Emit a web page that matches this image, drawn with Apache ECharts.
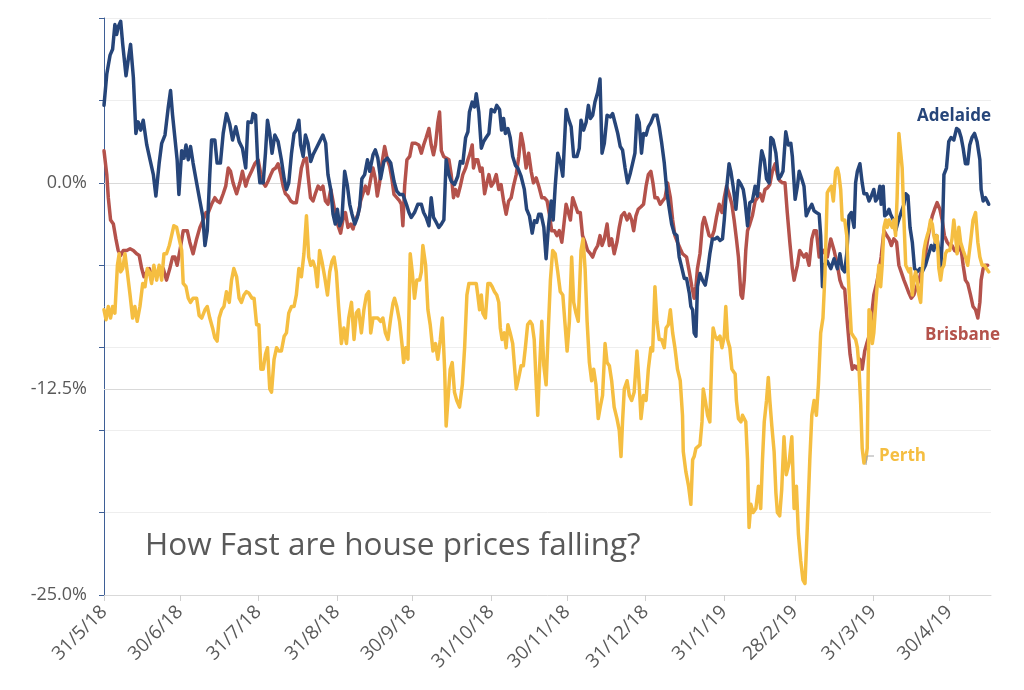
<!DOCTYPE html>
<html><head><meta charset="utf-8">
<script src="https://cdn.jsdelivr.net/npm/echarts@6/dist/echarts.min.js"></script>
<style>html,body{margin:0;padding:0;background:#fff}#c{width:1024px;height:690px}</style>
</head><body><div id="c"></div>
<script>
// x = days since 31/5/18, y = % change
const monthEndDays = [0,30,61,92,122,153,183,214,245,273,304,334];
const monthEndLabels = ['31/5/18','30/6/18','31/7/18','31/8/18','30/9/18','31/10/18','30/11/18','31/12/18','31/1/19','28/2/19','31/3/19','30/4/19'];
const yLabelValues = [-25,-12.5,0];
const seriesNames = ['Brisbane','Adelaide','Perth'];

const adelaide = [[0,4.7],[1.1,6.6],[2.4,7.75],[3.4,8.1],[4.3,9.6],[5.0,9.0],[5.6,9.45],[6.6,9.8],[7.4,8.4],[8.7,6.5],[9.6,7.5],[10.5,8.4],[11.6,6.4],[12.6,3.0],[13.5,3.7],[14.5,3.2],[15.5,3.8],[16.9,2.3],[18.2,1.4],[19.5,0.5],[20.5,-0.8],[21.8,1.2],[22.8,2.4],[24.1,2.9],[25.4,4.6],[26.3,5.6],[27.1,4.1],[28.0,2.75],[28.9,1.4],[29.6,-0.7],[30.7,1.95],[31.6,1.5],[32.4,2.3],[33.3,1.4],[34.2,2.2],[35.2,1.2],[36.6,0.0],[37.9,-1.1],[39.0,-2.0],[39.9,-3.8],[40.8,-2.9],[41.8,0.5],[42.5,2.6],[43.8,2.6],[44.7,1.2],[46.0,1.2],[47.1,3.0],[48.4,4.2],[49.7,3.55],[50.8,2.6],[52.1,3.4],[53.4,2.5],[54.7,2.1],[56.0,0.9],[56.9,3.7],[58.3,3.66],[58.9,4.2],[59.9,4.1],[60.7,1.4],[61.6,0.0],[62.9,0.0],[63.8,1.8],[64.6,3.8],[65.5,3.0],[66.4,1.8],[67.5,2.9],[68.8,2.5],[70.1,1.4],[71.2,0.25],[72.1,-0.4],[73.0,0.0],[74.1,1.8],[75.1,3.0],[76.0,3.2],[77.0,3.8],[77.7,2.3],[78.7,1.6],[79.6,2.9],[80.6,2.4],[81.7,1.3],[82.6,1.7],[83.9,2.1],[85.2,2.5],[86.5,2.9],[87.6,2.4],[88.5,0.5],[89.6,-0.4],[90.5,-1.9],[91.4,-2.5],[92.2,-1.6],[93.1,-2.6],[94.0,-2.25],[95.1,0.7],[96.2,-0.2],[97.1,-1.3],[98.0,-1.9],[99.1,-2.5],[100.1,-2.1],[101.0,-1.5],[101.9,0.25],[103.0,0.5],[104.1,1.4],[105.0,0.7],[106.3,1.7],[107.2,2.0],[108.2,1.5],[109.3,0.25],[110.6,1.3],[112.0,1.5],[113.3,1.2],[114.6,0.1],[115.7,-0.5],[116.8,-0.7],[118.1,-0.7],[119.5,-1.3],[120.5,-1.8],[121.4,-2.1],[122.7,-1.8],[124.0,-1.3],[125.4,-1.3],[126.3,-1.8],[127.3,-2.1],[128.4,-2.6],[129.3,-0.9],[130.2,-2.1],[131.3,-2.4],[132.3,-2.7],[133.3,-2.5],[134.3,-2.25],[135.2,1.4],[136.3,0.5],[137.2,0.1],[138.5,-0.1],[139.8,0.4],[140.8,1.3],[141.8,1.2],[142.9,2.75],[143.8,3.1],[144.4,4.3],[145.5,4.9],[146.4,4.6],[147.1,5.4],[148.1,4.3],[149.1,2.1],[150.0,2.5],[151.0,2.75],[152.1,3.0],[153.0,4.45],[154.3,4.3],[155.2,4.7],[156.3,4.45],[157.1,3.2],[157.9,3.9],[158.6,3.0],[159.6,3.3],[160.5,2.75],[161.5,1.6],[162.6,1.05],[163.5,0.9],[164.8,0.4],[166.1,-0.4],[167.0,-1.6],[168.1,-2.0],[169.2,-3.05],[170.1,-2.3],[171.0,-2.4],[171.8,-1.9],[172.7,-1.9],[173.8,-2.7],[174.7,-4.6],[175.6,-2.7],[176.7,-1.1],[177.5,-2.25],[178.3,-0.2],[179.3,1.8],[180.3,1.3],[181.3,0.4],[182.6,4.45],[183.5,3.9],[184.6,3.4],[185.6,1.6],[186.9,1.6],[187.8,2.1],[188.5,3.8],[189.5,3.2],[190.5,3.66],[191.4,4.7],[192.2,3.9],[193.1,4.1],[194.0,4.9],[195.1,5.5],[196.0,6.3],[196.8,1.8],[197.7,2.4],[198.8,4.1],[200.1,4.0],[201.0,4.2],[201.9,3.66],[203.0,3.0],[204.0,2.2],[204.9,2.0],[205.9,0.9],[206.9,0.0],[208.0,0.6],[208.9,1.2],[209.8,1.8],[210.6,4.1],[211.5,3.66],[212.4,1.8],[213.2,3.0],[214.2,2.9],[215.1,3.4],[216.1,3.66],[217.2,4.1],[218.5,4.1],[219.4,3.4],[220.3,2.5],[221.4,1.2],[222.5,-0.66],[223.4,-1.6],[224.3,-2.5],[225.3,-3.05],[226.4,-3.2],[227.3,-4.5],[228.4,-5.2],[229.3,-5.8],[230.2,-5.8],[231.3,-6.7],[231.9,-7.5],[232.6,-7.7],[233.2,-9.1],[233.9,-9.3],[234.5,-6.3],[235.5,-5.5],[236.5,-5.9],[237.6,-6.2],[238.5,-5.4],[239.4,-4.3],[240.4,-3.4],[241.5,-3.4],[242.4,-3.3],[243.4,-3.5],[244.4,-3.4],[245.1,-2.25],[246.0,-0.4],[247.0,1.16],[247.7,0.7],[248.6,-0.2],[249.7,-1.6],[250.7,0.14],[251.7,-0.1],[252.6,-0.4],[253.3,-1.1],[254.3,-2.6],[255.2,-1.2],[256.2,-1.1],[257.3,-0.2],[258.2,-0.8],[259.2,0.9],[259.9,1.95],[260.9,1.4],[261.8,0.25],[262.8,0.0],[263.5,2.75],[264.4,2.6],[265.5,1.8],[266.5,0.25],[267.4,0.4],[268.3,0.7],[269.4,3.1],[270.4,2.3],[271.4,2.4],[272.0,1.6],[273.1,-1.0],[274.0,-0.2],[274.7,0.7],[275.7,0.25],[276.6,-0.2],[277.5,-2.0],[278.6,-1.6],[279.7,-1.3],[280.6,-1.7],[281.5,-1.8],[282.6,-1.9],[283.2,-3.2],[283.9,-6.3],[284.5,-5.0],[285.8,-4.75],[287.2,-5.2],[288.5,-4.6],[289.8,-5.2],[290.8,-4.3],[291.7,-5.2],[292.7,-5.4],[293.5,-4.3],[294.4,-2.0],[295.3,-1.8],[296.4,-2.7],[297.0,0.0],[297.7,0.7],[298.7,1.16],[299.6,0.0],[300.3,-0.66],[301.4,-0.66],[302.3,-1.1],[303.2,-0.8],[304.2,-0.4],[304.9,-1.1],[305.8,-0.9],[306.6,-0.2],[307.1,-1.3],[307.9,-0.2],[308.5,-2.0],[309.3,-1.9],[310.2,-1.6],[310.8,-1.9],[311.9,-2.25],[312.8,-2.9],[313.7,-2.4],[314.8,-1.9],[316.1,-1.3],[316.8,-0.66],[317.7,-0.8],[318.5,-2.7],[319.4,-3.6],[320.3,-5.2],[321.3,-5.4],[322.4,-5.2],[323.3,-5.4],[324.6,-5.0],[325.9,-4.3],[326.9,-3.8],[327.9,-4.1],[329.0,-3.2],[329.9,-4.1],[330.6,-5.2],[331.2,-3.6],[331.9,0.5],[332.9,0.9],[333.8,2.5],[334.7,2.75],[335.8,2.6],[336.9,3.3],[337.8,3.2],[338.7,2.75],[339.5,2.1],[340.4,1.16],[341.3,1.16],[342.1,2.3],[343.0,2.75],[344.0,3.0],[345.0,2.5],[346.1,1.4],[346.6,-0.4],[347.4,-1.1],[348.3,-0.9],[349.0,-1.1],[349.6,-1.3]];

const brisbane = [[0,1.95],[1.1,0.5],[1.7,-0.9],[2.6,-2.25],[3.7,-2.5],[4.7,-3.4],[5.6,-4.1],[6.6,-4.4],[7.6,-4.1],[9.0,-4.1],[10.3,-4.0],[11.6,-4.1],[12.9,-4.3],[13.9,-4.4],[14.9,-5.2],[15.8,-5.7],[16.9,-5.4],[17.9,-5.2],[18.8,-5.9],[19.7,-5.2],[20.8,-5.7],[22.1,-5.4],[23.4,-5.2],[24.7,-5.9],[26.0,-5.2],[27.1,-4.5],[28.0,-4.5],[28.9,-5.0],[30.0,-4.1],[31.3,-2.9],[32.9,-2.9],[33.9,-3.6],[35.2,-4.3],[36.6,-3.4],[37.9,-2.7],[39.2,-2.25],[40.3,-1.8],[41.2,-1.8],[42.5,-1.3],[43.8,-0.9],[44.7,-1.1],[45.8,-1.2],[47.1,-0.66],[48.1,-0.2],[49.1,0.9],[50.0,0.7],[51.0,0.0],[52.4,-0.66],[53.7,0.0],[54.7,0.7],[56.0,-0.2],[56.9,0.25],[58.3,0.7],[59.6,1.16],[60.9,1.4],[62.0,0.5],[62.9,0.0],[63.8,-0.2],[64.8,0.1],[65.9,0.5],[66.8,0.8],[67.8,0.9],[68.8,1.16],[69.9,0.5],[70.8,-0.2],[71.7,-0.66],[72.7,-0.8],[73.8,-1.1],[74.7,-1.2],[76.0,-1.2],[77.0,-0.2],[78.0,0.9],[79.0,1.4],[80.0,1.5],[80.6,0.5],[81.6,-0.9],[82.6,-1.1],[83.5,-0.66],[84.6,-0.2],[85.6,-0.4],[86.5,-0.2],[87.5,-1.1],[88.5,-1.3],[89.6,-0.4],[90.5,-1.1],[91.4,-1.9],[92.5,-2.6],[93.5,-3.05],[94.4,-2.25],[95.4,-1.8],[96.4,-2.7],[97.5,-2.5],[98.4,-2.8],[99.3,-2.25],[100.4,-1.9],[101.4,-1.1],[102.3,-0.66],[103.3,-0.2],[104.3,-0.66],[105.4,0.25],[106.3,0.9],[107.2,0.25],[108.0,-0.8],[108.9,0.0],[109.8,1.16],[110.9,2.2],[112.0,1.4],[112.9,1.0],[113.8,0.2],[114.6,-0.7],[115.7,-0.9],[116.8,-1.1],[117.5,-1.3],[118.1,-2.6],[118.8,-0.2],[119.7,1.4],[120.8,1.6],[121.8,2.4],[123.1,2.4],[124.4,2.3],[125.4,1.8],[126.3,2.3],[127.3,2.75],[128.4,3.3],[129.3,2.3],[130.2,1.7],[131.0,2.3],[131.9,3.66],[132.6,4.3],[133.3,1.95],[134.2,1.6],[135.2,1.5],[136.3,1.4],[137.2,0.5],[138.1,-0.9],[138.9,-0.4],[139.8,-0.8],[140.8,-0.2],[141.8,0.5],[142.9,0.9],[143.8,1.4],[144.7,1.8],[145.5,2.3],[146.0,0.9],[146.8,1.4],[147.7,1.4],[148.7,0.7],[149.4,0.9],[150.4,-0.66],[151.3,0.0],[152.1,0.5],[153.0,-0.2],[153.9,0.0],[155.0,0.5],[156.0,-0.4],[156.9,-0.1],[157.9,-1.1],[158.9,-1.9],[159.9,-1.1],[160.9,-0.9],[161.8,-0.2],[162.9,0.5],[163.9,1.6],[164.8,3.0],[165.7,2.3],[166.8,0.9],[167.8,1.8],[168.8,0.7],[169.7,0.0],[170.8,0.3],[171.8,-0.2],[173.0,-0.9],[174.0,-0.9],[175.1,-1.1],[176.0,-1.9],[176.9,-2.9],[178.0,-2.9],[179.0,-3.2],[179.9,-2.9],[180.9,-3.6],[181.6,-2.7],[182.6,-1.3],[183.5,-1.8],[184.3,-2.25],[185.2,-0.9],[186.1,-1.3],[187.2,-1.8],[188.2,-1.8],[189.1,-3.2],[190.1,-3.6],[191.1,-4.1],[192.2,-4.3],[193.1,-4.5],[194.0,-4.1],[195.1,-3.8],[196.0,-3.2],[196.8,-3.8],[197.7,-3.4],[198.8,-2.5],[199.7,-3.8],[200.6,-3.4],[201.6,-4.3],[202.7,-3.6],[203.6,-2.7],[204.5,-2.0],[205.6,-1.8],[206.7,-2.25],[207.6,-1.9],[208.5,-2.25],[209.3,-2.9],[210.2,-2.0],[211.1,-1.6],[212.2,-1.45],[213.2,-1.3],[214.2,-0.2],[215.1,0.5],[216.1,0.7],[216.9,0.0],[217.7,-0.9],[218.7,-0.9],[219.8,-1.3],[220.7,-1.1],[221.7,-0.9],[222.7,0.0],[223.8,-0.9],[224.7,-2.25],[225.6,-3.2],[226.6,-3.6],[227.7,-4.0],[228.6,-4.3],[229.3,-4.3],[230.2,-4.5],[231.3,-5.4],[232.3,-6.3],[233.2,-7.0],[233.9,-6.3],[234.5,-5.2],[235.5,-4.3],[236.5,-2.5],[237.2,-2.1],[238.1,-2.6],[239.1,-3.2],[240.2,-3.3],[241.1,-2.9],[242.0,-2.1],[243.1,-1.3],[244.2,-1.8],[245.1,-0.9],[246.0,-0.2],[247.0,-0.66],[248.1,-1.3],[249.0,-2.25],[249.9,-3.4],[250.7,-4.5],[251.7,-6.8],[252.3,-7.0],[253.0,-5.9],[253.6,-4.1],[254.3,-2.9],[255.2,-2.5],[256.2,-2.0],[257.3,-1.1],[258.2,-0.9],[259.2,-0.66],[260.2,-1.1],[261.2,-0.4],[262.2,-0.3],[263.1,-0.1],[264.1,0.7],[265.2,1.16],[266.1,0.5],[267.0,0.14],[268.1,0.0],[269.1,0.0],[270.0,-1.8],[271.0,-3.6],[272.0,-5.2],[272.7,-5.9],[273.4,-5.4],[274.0,-5.0],[274.9,-4.1],[275.7,-4.3],[276.6,-4.5],[277.5,-4.3],[278.6,-5.0],[279.7,-3.4],[280.6,-2.9],[281.5,-2.9],[282.6,-4.5],[283.6,-4.3],[284.5,-4.1],[285.8,-4.5],[287.2,-3.4],[288.5,-4.1],[289.8,-5.0],[290.8,-5.9],[291.7,-6.3],[292.7,-6.45],[293.7,-8.4],[294.8,-10.4],[295.7,-11.3],[296.6,-11.1],[297.7,-11.3],[298.7,-10.7],[299.6,-11.3],[300.6,-10.2],[301.4,-9.75],[302.3,-9.3],[303.2,-8.2],[304.2,-6.8],[305.3,-6.1],[306.2,-5.4],[307.1,-4.5],[308.2,-2.9],[309.3,-3.2],[310.2,-3.4],[311.1,-3.8],[312.1,-3.4],[313.2,-3.6],[314.1,-5.0],[315.0,-5.4],[316.1,-5.9],[317.1,-6.3],[318.1,-6.7],[319.0,-7.0],[320.0,-6.8],[321.1,-6.3],[322.0,-5.9],[322.9,-5.4],[324.0,-5.0],[325.3,-3.6],[326.3,-2.7],[327.3,-2.0],[328.2,-1.6],[329.2,-1.2],[330.3,-1.6],[331.2,-2.25],[332.1,-3.2],[333.2,-3.6],[334.2,-3.8],[335.1,-3.8],[336.1,-4.1],[337.1,-4.2],[338.5,-3.8],[339.5,-5.0],[340.4,-5.9],[341.3,-6.1],[342.4,-6.8],[343.4,-7.5],[344.4,-7.7],[345.3,-8.2],[346.1,-7.25],[346.6,-5.9],[347.4,-5.2],[348.3,-5.0],[349.2,-5.0]];

const perth = [[0,-7.7],[0.8,-8.3],[1.7,-7.5],[2.6,-8.2],[3.4,-7.5],[4.3,-7.9],[5.3,-5.0],[6.0,-4.3],[6.6,-5.4],[7.4,-5.2],[8.3,-4.3],[9.2,-5.4],[10.3,-6.8],[11.3,-8.2],[12.2,-7.5],[13.1,-8.4],[14.2,-7.5],[15.3,-6.1],[16.2,-6.3],[17.1,-5.2],[17.9,-5.4],[18.8,-6.1],[19.7,-5.0],[20.8,-5.9],[21.8,-5.0],[22.8,-5.9],[23.7,-4.3],[24.7,-4.3],[25.8,-3.8],[26.7,-3.2],[27.6,-2.6],[28.7,-2.7],[29.7,-3.4],[30.7,-4.1],[31.3,-6.1],[32.4,-6.3],[33.3,-7.0],[34.2,-7.25],[35.2,-7.0],[36.6,-7.0],[37.6,-8.05],[38.6,-8.2],[39.9,-7.7],[40.8,-7.5],[41.8,-8.2],[42.9,-8.8],[43.8,-9.4],[44.7,-9.6],[45.5,-8.2],[46.5,-7.7],[47.4,-7.5],[48.4,-6.6],[49.5,-7.25],[50.4,-5.9],[51.3,-5.2],[52.4,-5.7],[53.4,-7.0],[54.3,-7.25],[55.3,-6.8],[56.3,-6.6],[57.3,-6.7],[58.5,-7.0],[59.3,-7.0],[60.3,-8.6],[61.2,-8.6],[62.0,-11.3],[62.9,-11.3],[63.8,-10.4],[64.6,-10.0],[65.5,-12.5],[66.2,-12.7],[67.2,-10.7],[68.2,-10.0],[69.1,-10.2],[70.1,-10.2],[71.2,-9.3],[72.1,-9.1],[73.0,-7.9],[74.1,-7.5],[75.1,-7.5],[76.0,-6.8],[77.0,-5.2],[78.0,-5.7],[79.0,-4.3],[80.0,-2.0],[80.9,-4.5],[81.7,-5.0],[82.6,-4.75],[83.5,-5.2],[84.3,-6.3],[85.2,-4.1],[86.1,-4.75],[87.2,-5.7],[88.3,-6.8],[89.2,-5.4],[90.1,-4.75],[90.9,-4.5],[91.8,-5.4],[92.7,-7.5],[93.8,-9.75],[94.8,-8.8],[95.8,-9.75],[96.7,-8.2],[97.8,-7.25],[98.8,-9.5],[99.7,-7.9],[100.6,-7.7],[101.7,-9.1],[102.7,-7.7],[103.7,-6.8],[104.6,-6.6],[105.4,-9.1],[106.3,-8.2],[107.2,-8.2],[108.2,-8.2],[109.3,-8.4],[110.2,-8.2],[111.2,-9.1],[112.2,-9.5],[113.3,-8.2],[114.2,-7.3],[114.8,-7.0],[115.7,-7.5],[116.8,-8.4],[117.9,-10.0],[118.4,-10.9],[119.2,-10.0],[120.1,-10.7],[121.0,-4.3],[121.8,-5.4],[122.7,-7.0],[123.6,-5.9],[124.7,-5.9],[125.4,-5.4],[126.0,-3.8],[127.1,-5.0],[128.0,-7.7],[128.9,-8.6],[130.0,-10.2],[131.0,-9.75],[131.9,-10.7],[132.9,-9.5],[133.7,-8.2],[134.6,-11.3],[135.2,-14.75],[135.9,-13.2],[136.8,-11.3],[137.6,-10.9],[138.5,-12.7],[139.4,-13.2],[140.5,-13.6],[141.6,-12.25],[142.5,-10.0],[143.4,-6.8],[144.2,-6.1],[145.1,-6.1],[146.0,-6.1],[147.1,-6.1],[147.7,-6.8],[148.4,-7.7],[149.1,-6.8],[149.7,-7.9],[150.7,-8.2],[151.7,-6.1],[152.6,-6.1],[153.4,-6.3],[154.3,-6.6],[155.2,-6.8],[156.0,-7.25],[156.6,-8.8],[157.3,-9.5],[158.2,-9.1],[158.9,-10.0],[159.6,-8.6],[160.5,-9.1],[161.5,-9.75],[162.2,-11.1],[162.9,-12.5],[163.9,-11.8],[164.8,-11.1],[165.7,-11.1],[166.5,-10.0],[167.4,-8.6],[168.4,-8.4],[169.2,-8.6],[170.0,-9.5],[170.8,-12.25],[171.4,-14.1],[172.1,-11.3],[173.0,-8.4],[173.8,-11.1],[174.7,-12.25],[175.6,-8.8],[176.4,-5.9],[177.3,-4.1],[178.3,-4.3],[179.3,-5.4],[180.3,-6.6],[181.3,-6.8],[182.2,-8.6],[183.0,-10.2],[183.9,-8.4],[184.8,-4.5],[185.6,-7.25],[186.5,-7.9],[187.4,-8.4],[188.5,-4.1],[189.3,-3.4],[190.1,-5.2],[190.9,-8.4],[191.8,-10.9],[192.7,-12.0],[193.5,-11.3],[194.4,-12.25],[195.3,-14.3],[196.1,-13.6],[197.0,-12.9],[198.0,-9.75],[198.8,-10.9],[199.7,-11.1],[200.6,-12.0],[201.6,-13.6],[202.7,-14.3],[203.6,-15.0],[204.3,-16.6],[204.9,-14.5],[205.6,-12.5],[206.7,-12.0],[207.6,-12.9],[208.5,-13.2],[209.5,-12.7],[210.6,-10.2],[211.5,-12.25],[212.2,-14.3],[213.2,-12.9],[214.2,-13.2],[215.1,-11.3],[216.1,-10.0],[216.8,-10.2],[217.7,-6.3],[218.5,-8.4],[219.4,-9.5],[220.3,-9.5],[221.4,-10.0],[222.1,-8.8],[223.0,-8.6],[223.8,-7.7],[224.7,-9.1],[225.6,-10.0],[226.6,-11.3],[227.7,-12.0],[228.6,-14.1],[228.9,-16.3],[229.9,-17.5],[231.0,-18.4],[231.9,-19.5],[232.6,-16.8],[233.2,-16.6],[233.9,-16.1],[234.5,-16.1],[235.5,-15.9],[236.3,-14.5],[236.8,-12.5],[237.6,-13.2],[238.5,-14.1],[239.4,-14.5],[240.2,-10.4],[240.7,-8.8],[241.5,-9.3],[242.4,-9.5],[243.4,-9.3],[244.2,-10.0],[245.1,-9.3],[245.7,-7.5],[246.4,-9.5],[247.3,-10.0],[248.1,-11.3],[248.6,-11.3],[249.4,-11.6],[249.9,-13.2],[250.7,-14.3],[251.7,-14.5],[252.3,-14.1],[253.0,-14.1],[253.6,-14.5],[254.3,-16.8],[254.9,-20.9],[255.6,-19.5],[256.5,-20.0],[257.6,-19.75],[258.6,-18.4],[259.5,-19.75],[260.2,-16.8],[260.9,-14.5],[261.8,-13.2],[262.5,-11.8],[263.1,-13.2],[263.9,-14.75],[264.8,-16.3],[265.5,-18.8],[266.1,-20.0],[267.0,-20.2],[267.8,-18.6],[268.7,-15.4],[269.6,-17.7],[270.7,-17.0],[271.8,-15.4],[272.7,-19.75],[273.6,-18.4],[274.4,-21.3],[275.3,-22.9],[276.2,-24.1],[277.0,-24.3],[277.9,-20.9],[278.9,-16.8],[279.7,-14.1],[280.6,-13.2],[281.5,-14.1],[282.3,-12.25],[283.2,-9.1],[284.1,-8.2],[284.9,-5.5],[285.8,-0.6],[286.5,-0.4],[287.4,-0.2],[288.2,-1.1],[289.1,0.7],[289.8,0.9],[290.4,0.5],[291.1,-0.4],[291.7,-2.25],[292.7,-2.25],[293.5,-3.2],[294.0,-5.4],[294.8,-7.7],[295.3,-9.1],[296.1,-9.3],[297.0,-9.5],[297.7,-10.0],[298.3,-11.1],[299.0,-13.4],[299.6,-16.1],[300.3,-17.0],[301.0,-16.8],[301.6,-16.1],[302.3,-7.7],[302.9,-7.9],[303.6,-9.75],[304.2,-9.1],[304.9,-7.5],[305.5,-6.3],[306.2,-5.0],[306.9,-6.3],[307.5,-5.0],[308.2,-2.7],[308.9,-2.25],[309.5,-2.7],[310.2,-2.25],[310.8,-2.5],[311.5,-2.7],[312.1,-2.25],[312.8,-3.2],[313.4,-0.9],[314.1,3.0],[314.8,3.0],[315.4,0.9],[316.1,-2.25],[316.8,-5.0],[317.4,-5.0],[318.1,-5.4],[318.7,-5.2],[319.4,-6.8],[320.0,-5.9],[320.7,-5.4],[321.3,-5.9],[322.0,-6.8],[322.7,-7.25],[323.3,-5.4],[324.0,-4.1],[324.6,-3.6],[325.3,-3.2],[325.9,-2.9],[326.6,-2.25],[327.3,-2.5],[327.9,-3.2],[328.6,-3.6],[329.2,-3.2],[329.9,-5.2],[330.6,-5.9],[331.2,-5.2],[331.9,-5.0],[332.5,-4.3],[333.2,-4.1],[334.2,-4.1],[335.1,-3.4],[335.8,-2.25],[336.5,-3.2],[337.1,-4.3],[337.8,-2.7],[338.5,-3.6],[339.5,-4.1],[340.4,-4.5],[341.3,-5.0],[342.4,-3.6],[343.4,-2.25],[344.4,-1.8],[345.3,-3.6],[346.1,-4.5],[347.0,-5.0],[347.9,-5.0],[348.7,-5.2],[349.6,-5.4]];

const colors = {Adelaide:'#264579', Brisbane:'#B4524B', Perth:'#F5BE41'};
const FONT = "'Open Sans', sans-serif";
const chart = echarts.init(document.getElementById('c'), null, {renderer:'canvas'});

function lineSeries(name, data, z) {
  return {
    name, type:'line', data, xAxisIndex:0, yAxisIndex:0,
    showSymbol:false, symbol:'none', smooth:false, z,
    lineStyle:{color:colors[name], width:3.5, join:'round', cap:'round'},
    itemStyle:{color:colors[name]}
  };
}

chart.setOption({
  animation:false,
  backgroundColor:'#ffffff',
  grid:{left:104, right:33, top:18, bottom:95, containLabel:false},
  xAxis:{
    type:'value', min:0, max:350.5,
    axisLine:{show:true, onZero:false, lineStyle:{color:'#d9d9d9', width:1}},
    axisTick:{show:true, customValues:monthEndDays, length:6, lineStyle:{color:'#d0d0d0'}},
    axisLabel:{customValues:monthEndDays, formatter:v => monthEndLabels[monthEndDays.indexOf(v)] || '',
      rotate:45, fontSize:19, color:'#595959', fontFamily:FONT, margin:14},
    splitLine:{show:false}
  },
  yAxis:[
    {type:'value', min:-25, max:10, interval:5, z:0,
     axisLine:{show:true, onZero:false, lineStyle:{color:'#3e5f96', width:1}},
     axisTick:{show:true, length:5, lineStyle:{color:'#3e5f96'}},
     axisLabel:{show:false},
     splitLine:{show:true, lineStyle:{color:'#eeeeee', width:1}}},
    {type:'value', min:-25, max:10, z:1, position:'left',
     axisLine:{show:false}, axisTick:{show:false},
     axisLabel:{customValues:yLabelValues, formatter:v => v.toFixed(1) + '%', fontSize:18, color:'#595959', fontFamily:FONT, margin:17},
     splitLine:{show:false}},
    {type:'value', min:-25, max:10, interval:12.5, z:1, position:'left',
     axisLine:{show:false}, axisTick:{show:false}, axisLabel:{show:false},
     splitLine:{show:true, showMaxLine:false, showMinLine:false, lineStyle:{color:'#d9d9d9', width:1}}}
  ],
  series:[
    lineSeries('Brisbane', brisbane, 2),
    lineSeries('Adelaide', adelaide, 3),
    lineSeries('Perth', perth, 4)
  ],
  graphic:[
    {type:'text', x:145, y:546, z:10, style:{text:'How Fast are house prices falling?', fill:'#595959', font:"31.5px 'Open Sans', sans-serif", align:'left', verticalAlign:'middle'}},
    {type:'text', x:991, y:116, z:10, style:{text:'Adelaide', fill:colors.Adelaide, font:"bold 17px 'Open Sans', sans-serif", align:'right', verticalAlign:'middle'}},
    {type:'text', x:1000, y:335, z:10, style:{text:'Brisbane', fill:colors.Brisbane, font:"bold 17px 'Open Sans', sans-serif", align:'right', verticalAlign:'middle'}},
    {type:'text', x:879, y:456, z:10, style:{text:'Perth', fill:colors.Perth, font:"bold 17px 'Open Sans', sans-serif", align:'left', verticalAlign:'middle'}},
    {type:'polyline', z:10, shape:{points:[[866,465],[867,456],[874,456]]}, style:{stroke:'#a6a6a6', lineWidth:1, fill:null}}
  ]
});
</script>
</body></html>
